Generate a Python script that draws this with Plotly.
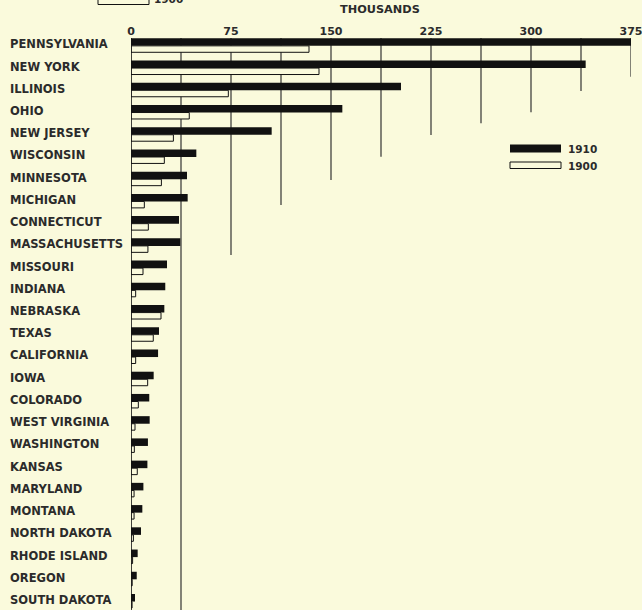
import plotly.graph_objects as go

states = ["PENNSYLVANIA", "NEW YORK", "ILLINOIS", "OHIO", "NEW JERSEY", "WISCONSIN",
          "MINNESOTA", "MICHIGAN", "CONNECTICUT", "MASSACHUSETTS", "MISSOURI", "INDIANA",
          "NEBRASKA", "TEXAS", "CALIFORNIA", "IOWA", "COLORADO", "WEST VIRGINIA",
          "WASHINGTON", "KANSAS", "MARYLAND", "MONTANA", "NORTH DAKOTA", "RHODE ISLAND",
          "OREGON", "SOUTH DAKOTA"]
v1910 = [375, 341, 202.5, 158.5, 105.5, 49, 42, 42.5, 36, 37, 27, 25.7, 25, 21, 20.3,
         17, 13.7, 14, 12.7, 12.3, 9.3, 8.5, 7.5, 5, 4.3, 3]
v1900 = [133.5, 141, 73, 43.7, 31.8, 25, 22.8, 10, 13, 12.7, 9, 3.5, 22.5, 16.7, 3.5,
         12.5, 5.5, 3, 2.5, 4.7, 2.3, 2.3, 1.8, 1.2, 0.9, 0.8]
tick_vals = [0, 75, 150, 225, 300, 375]
tick_text = ["0", "75", "150", "225", "300", "375"]
series_names = ["1910", "1900"]

BG = "#FAFADC"
INK = "#111111"
TXT = "#2b2b2b"
FONT = "DejaVu Sans"

W, H = 642, 610
ML, MR, MT, MB = 131, 11, 38, 0
PW, PH = W - ML - MR, H - MT - MB

idx = list(range(len(states)))

fig = go.Figure()
fig.add_trace(go.Bar(
    y=idx, x=v1910, orientation="h", name=series_names[0],
    width=0.34, offset=-0.27,
    marker=dict(color=INK, line=dict(width=0)),
    hovertext=states, showlegend=False))
fig.add_trace(go.Bar(
    y=idx, x=v1900, orientation="h", name=series_names[1],
    width=0.29, offset=0.07,
    marker=dict(color=BG, line=dict(color=INK, width=1)),
    hovertext=states, showlegend=False))

# staircase gridlines (value, y end in row units)
grid_ends = [(37.5, 25.45), (75, 9.48), (112.5, 7.23), (150, 6.10), (187.5, 5.06),
             (225, 4.08), (262.5, 3.55), (300, 3.06), (337.5, 2.10), (375, 1.46)]
shapes = []
for gx, gy in grid_ends:
    shapes.append(dict(type="line", xref="x", yref="y", x0=gx, x1=gx, y0=-0.283, y1=gy,
                       line=dict(color="#333333", width=1.2), layer="below"))
# zero axis line
shapes.append(dict(type="line", xref="x", yref="paper", x0=0, x1=0, y0=0, y1=1,
                   line=dict(color=INK, width=1.6), layer="above"))

def px2x(px):
    return (px - ML) / PW

def py2y(py):
    return (H - MB - py) / PH

# right legend
shapes.append(dict(type="rect", xref="paper", yref="paper",
                   x0=px2x(510), x1=px2x(561), y0=py2y(152.5), y1=py2y(144.5),
                   fillcolor=INK, line=dict(width=0)))
shapes.append(dict(type="rect", xref="paper", yref="paper",
                   x0=px2x(510), x1=px2x(561), y0=py2y(168.5), y1=py2y(162),
                   fillcolor=BG, line=dict(color=INK, width=1)))
# cut-off legend at top left
shapes.append(dict(type="rect", xref="paper", yref="paper",
                   x0=px2x(98), x1=px2x(149), y0=py2y(4.5), y1=py2y(-3),
                   fillcolor=BG, line=dict(color=INK, width=1)))

annotations = []
for i, s in enumerate(states):
    annotations.append(dict(text=s, xref="paper", yref="y", x=px2x(8), y=i,
                            xanchor="left", yanchor="middle", showarrow=False,
                            font=dict(family=FONT, size=11.5, color=TXT, weight="bold")))
annotations.append(dict(text="THOUSANDS", xref="paper", yref="paper", x=px2x(380), y=py2y(9.5),
                        xanchor="center", yanchor="middle", showarrow=False,
                        font=dict(family=FONT, size=11.3, color=TXT, weight="bold")))
annotations.append(dict(text=series_names[0], xref="paper", yref="paper", x=px2x(566), y=py2y(148.5),
                        xanchor="left", yanchor="middle", showarrow=False,
                        font=dict(family=FONT, size=10.5, color=TXT, weight="bold")))
annotations.append(dict(text=series_names[1], xref="paper", yref="paper", x=px2x(566), y=py2y(165.5),
                        xanchor="left", yanchor="middle", showarrow=False,
                        font=dict(family=FONT, size=10.5, color=TXT, weight="bold")))
annotations.append(dict(text=series_names[1], xref="paper", yref="paper", x=px2x(152), y=py2y(-1),
                        xanchor="left", yanchor="middle", showarrow=False,
                        font=dict(family=FONT, size=10.5, color=TXT, weight="bold")))

fig.update_layout(
    width=W, height=H,
    margin=dict(l=ML, r=MR, t=MT, b=MB, pad=0),
    paper_bgcolor=BG, plot_bgcolor=BG,
    barmode="overlay",
    shapes=shapes, annotations=annotations,
    xaxis=dict(range=[0, 375], side="top", tickvals=tick_vals, ticktext=tick_text,
               showgrid=False, zeroline=False, showline=False, ticks="",
               ticklabelstandoff=0, ticklabeloverflow="allow",
               tickfont=dict(family=FONT, size=11, color=TXT, weight="bold"),
               fixedrange=True),
    yaxis=dict(range=[25.45, -0.283], showticklabels=False, showgrid=False,
               zeroline=False, showline=False, ticks="", fixedrange=True),
    showlegend=False,
)

fig.write_html("out.html", config={"displayModeBar": False},
               post_script="document.body.style.margin='0';document.body.style.overflow='hidden';"
                           "document.body.style.background='" + BG + "';")
